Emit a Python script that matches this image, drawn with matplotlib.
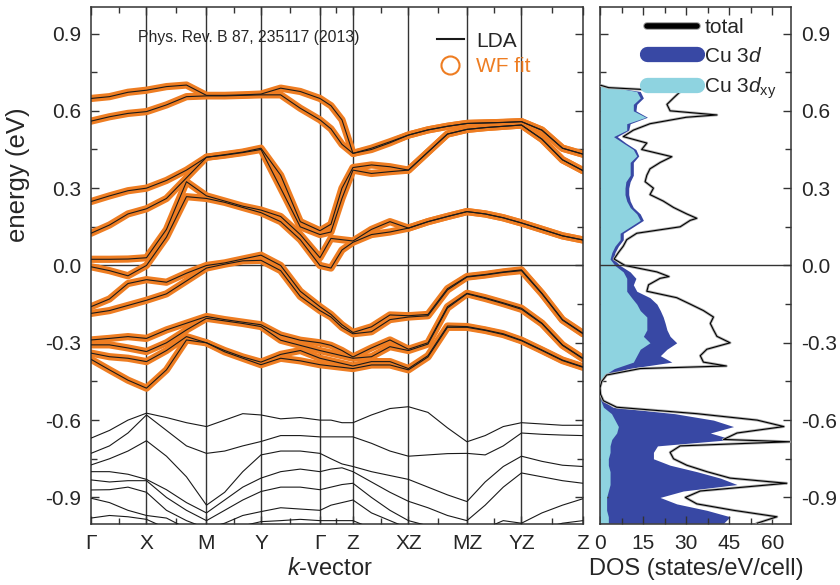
import matplotlib
matplotlib.use("Agg")
import matplotlib.pyplot as plt
import matplotlib.patheffects as pe
from matplotlib.lines import Line2D
import numpy as np

plt.rcParams['font.family'] = ['Liberation Sans', 'DejaVu Sans']
plt.rcParams['mathtext.fontset'] = 'custom'
plt.rcParams['mathtext.rm'] = 'Liberation Sans'
plt.rcParams['mathtext.it'] = 'Liberation Sans:italic'

# ---- band structure data ----
node_labels = ["Γ", "X", "M", "Y", "Γ", "Z", "XZ", "MZ", "YZ", "Z"]
node_k = [0, 55.5, 115.5, 170, 229, 262, 317.5, 376, 430.5, 492]

k_points = [0, 18.5, 37, 55.5, 75.5, 95.5, 115.5, 133.7, 151.8, 170, 189.7, 209.3,
            229, 240, 251, 262, 280.5, 299, 317.5, 337, 356.5, 376, 394.2, 412.3,
            430.5, 451, 471.5, 492]

# Wannier-fitted bands (sorted, top to bottom)
wf_b1 = [0.648, 0.655, 0.672, 0.680, 0.694, 0.700, 0.660, 0.660, 0.662, 0.665, 0.688, 0.675, 0.648, 0.620,
         0.565, 0.435, 0.455, 0.480, 0.506, 0.526, 0.540, 0.551, 0.553, 0.555, 0.558, 0.525, 0.455, 0.432]
wf_b2 = [0.560, 0.577, 0.590, 0.597, 0.623, 0.655, 0.658, 0.658, 0.660, 0.662, 0.662, 0.610, 0.565, 0.530,
         0.470, 0.435, 0.450, 0.476, 0.506, 0.526, 0.540, 0.551, 0.553, 0.555, 0.558, 0.525, 0.455, 0.432]
wf_b3 = [0.248, 0.270, 0.290, 0.300, 0.330, 0.370, 0.420, 0.430, 0.440, 0.455, 0.350, 0.170, 0.135, 0.160,
         0.300, 0.380, 0.390, 0.383, 0.370, 0.440, 0.510, 0.528, 0.535, 0.540, 0.545, 0.490, 0.410, 0.368]
wf_b4 = [0.125, 0.157, 0.200, 0.220, 0.260, 0.340, 0.420, 0.428, 0.438, 0.450, 0.300, 0.150, 0.120, 0.130,
         0.260, 0.370, 0.357, 0.364, 0.370, 0.440, 0.510, 0.528, 0.535, 0.540, 0.545, 0.490, 0.410, 0.368]
wf_b5 = [0.024, 0.024, 0.025, 0.030, 0.140, 0.325, 0.270, 0.250, 0.230, 0.215, 0.190, 0.120, 0.030, 0.105,
         0.100, 0.095, 0.140, 0.170, 0.145, 0.170, 0.190, 0.209, 0.200, 0.185, 0.165, 0.140, 0.115, 0.099]
wf_b6 = [-0.005, -0.020, -0.040, 0.000, 0.110, 0.267, 0.260, 0.245, 0.225, 0.205, 0.170, 0.100, 0.000, -0.010,
         0.060, 0.090, 0.120, 0.130, 0.145, 0.170, 0.190, 0.209, 0.200, 0.185, 0.165, 0.140, 0.115, 0.099]
wf_b7 = [-0.160, -0.130, -0.070, -0.055, -0.065, -0.030, 0.000, 0.010, 0.025, 0.040, 0.000, -0.100, -0.160, -0.190,
         -0.230, -0.260, -0.238, -0.192, -0.195, -0.190, -0.090, -0.043, -0.035, -0.025, -0.017, -0.108, -0.210, -0.263]
wf_b8 = [-0.186, -0.175, -0.155, -0.135, -0.110, -0.060, -0.010, 0.005, 0.018, 0.020, -0.020, -0.120, -0.175, -0.200,
         -0.240, -0.265, -0.257, -0.210, -0.200, -0.195, -0.095, -0.045, -0.037, -0.027, -0.020, -0.110, -0.212, -0.265]
wf_b9 = [-0.289, -0.283, -0.276, -0.283, -0.250, -0.224, -0.198, -0.210, -0.220, -0.230, -0.270, -0.290, -0.300, -0.310,
         -0.330, -0.355, -0.320, -0.289, -0.325, -0.300, -0.160, -0.108, -0.125, -0.145, -0.166, -0.224, -0.308, -0.360]
wf_b10 = [-0.308, -0.308, -0.320, -0.334, -0.300, -0.250, -0.205, -0.215, -0.225, -0.237, -0.290, -0.310, -0.330, -0.340,
          -0.350, -0.360, -0.354, -0.315, -0.330, -0.305, -0.165, -0.110, -0.128, -0.148, -0.170, -0.226, -0.310, -0.362]
wf_b11 = [-0.340, -0.354, -0.360, -0.373, -0.330, -0.276, -0.300, -0.330, -0.355, -0.375, -0.345, -0.330, -0.360, -0.370,
          -0.380, -0.390, -0.373, -0.373, -0.400, -0.350, -0.235, -0.237, -0.250, -0.265, -0.290, -0.328, -0.367, -0.393]
wf_b12 = [-0.364, -0.405, -0.445, -0.476, -0.405, -0.289, -0.300, -0.335, -0.360, -0.385, -0.360, -0.370, -0.385, -0.390,
          -0.395, -0.400, -0.386, -0.386, -0.405, -0.355, -0.240, -0.240, -0.252, -0.268, -0.292, -0.330, -0.369, -0.395]

# deeper LDA bands (not fitted)
lda_d1 = [-0.670, -0.640, -0.600, -0.573, -0.590, -0.610, -0.625, -0.600, -0.575, -0.580, -0.595, -0.590, -0.600, -0.600,
          -0.610, -0.610, -0.580, -0.555, -0.548, -0.570, -0.630, -0.684, -0.660, -0.625, -0.610, -0.615, -0.620, -0.620]
lda_d2 = [-0.729, -0.700, -0.650, -0.580, -0.640, -0.700, -0.729, -0.720, -0.700, -0.683, -0.660, -0.660, -0.665, -0.665,
          -0.665, -0.665, -0.690, -0.720, -0.740, -0.735, -0.730, -0.729, -0.735, -0.700, -0.650, -0.655, -0.658, -0.660]
lda_d3 = [-0.774, -0.750, -0.720, -0.680, -0.740, -0.820, -0.930, -0.880, -0.800, -0.735, -0.720, -0.720, -0.729, -0.750,
          -0.770, -0.780, -0.800, -0.815, -0.830, -0.860, -0.890, -0.916, -0.840, -0.780, -0.740, -0.760, -0.775, -0.780]
lda_d4 = [-0.800, -0.800, -0.810, -0.830, -0.870, -0.920, -0.960, -0.910, -0.860, -0.825, -0.800, -0.790, -0.800, -0.790,
          -0.785, -0.800, -0.840, -0.880, -0.915, -0.940, -0.970, -0.990, -0.930, -0.860, -0.805, -0.820, -0.835, -0.845]
lda_d5 = [-0.832, -0.840, -0.835, -0.835, -0.900, -0.950, -0.990, -0.950, -0.910, -0.877, -0.860, -0.860, -0.870, -0.860,
          -0.850, -0.845, -0.900, -0.950, -0.990, -1.010, -1.030, -1.050, -1.020, -0.990, -1.000, -0.960, -0.930, -0.905]
lda_d6 = [-0.871, -0.870, -0.860, -0.880, -0.950, -0.990, -1.020, -1.000, -0.970, -0.955, -0.940, -0.945, -0.950, -0.930,
          -0.920, -0.910, -0.960, -0.990, -1.020, -1.050, -1.070, -1.080, -1.070, -1.050, -1.040, -1.020, -1.000, -0.990]
lda_d7 = [-0.903, -0.920, -0.950, -0.970, -0.980, -1.020, -1.050, -1.040, -1.010, -0.994, -0.990, -0.985, -0.990, -0.990,
          -0.990, -0.990, -1.020, -1.050, -1.080, -1.100, -1.100, -1.100, -1.100, -1.100, -1.100, -1.080, -1.050, -1.030]
lda_d8 = [-0.980, -0.970, -0.975, -0.985, -1.020, -1.050, -1.080, -1.070, -1.050, -1.030, -1.020, -1.020, -1.030, -1.040,
          -1.050, -1.050, -1.080, -1.100, -1.120, -1.120, -1.120, -1.120, -1.120, -1.120, -1.120, -1.100, -1.080, -1.060]

wf_bands = [wf_b1, wf_b2, wf_b3, wf_b4, wf_b5, wf_b6, wf_b7, wf_b8, wf_b9, wf_b10, wf_b11, wf_b12]
lda_deep = [lda_d1, lda_d2, lda_d3, lda_d4, lda_d5, lda_d6, lda_d7, lda_d8]

# ---- DOS data ----
total_energy = [0.70, 0.69, 0.675, 0.65, 0.625, 0.60, 0.584, 0.575, 0.55, 0.525, 0.50, 0.475, 0.45, 0.422,
                0.40, 0.375, 0.35, 0.325, 0.30, 0.275, 0.25, 0.225, 0.20, 0.183, 0.175, 0.15, 0.125, 0.10,
                0.075, 0.05, 0.025, 0.0, -0.025, -0.043, -0.05, -0.075, -0.10, -0.125, -0.15, -0.175, -0.20,
                -0.225, -0.25, -0.275, -0.30, -0.325, -0.35, -0.375, -0.39, -0.40, -0.425, -0.45, -0.475,
                -0.50, -0.525, -0.55, -0.575, -0.60, -0.625, -0.65, -0.675, -0.684, -0.70, -0.725, -0.75,
                -0.775, -0.80, -0.825, -0.845, -0.85, -0.875, -0.90, -0.925, -0.95, -0.975, -1.00]
total_dos = [0, 3, 28, 25.6, 23.3, 24.4, 40.7, 30, 17.4, 11.6, 8.1, 16.3, 14.5, 25,
             21, 17.4, 16.3, 15.7, 18.6, 17.4, 22, 25.6, 30.2, 33.7, 31.4, 27.9, 12.8, 9.3,
             8.1, 6.4, 4.9, 8.7, 19.8, 24, 20.9, 16.9, 16.3, 26.7, 31.4, 36, 39.5,
             38.4, 39.5, 40.7, 45.3, 37.2, 34.9, 36, 44, 14, 2.3, 0.6, 0,
             0.2, 1.2, 5.8, 33.7, 54.7, 64, 47.7, 43, 66, 27.9, 24.4, 25.6,
             30.2, 37.2, 45.3, 65, 60, 34.9, 29.7, 33.7, 46.5, 61.6, 54.7]

pdos_energy = np.linspace(0.70, -1.00, 69)
cu3d_dos = [0, 14, 15.1, 12.8, 12.5, 16.5, 10.5, 10, 6, 9, 12.5, 13.5, 11.6, 11.6, 11.6, 10.5, 10, 10,
            10.5, 11.6, 14, 15.1, 11.6, 8.1, 8.1, 6.4, 5.2, 4.7, 7, 10.5, 12.5, 11.6, 12.8, 17.4, 19.8,
            21, 22, 22.7, 23.3, 24.4, 26.7, 23.3, 21, 25, 10, 2, 0.5, 0, 0.1, 1, 4.5, 26, 39.5, 46.5,
            38.4, 46, 20, 18.6, 18.6, 24.4, 33.7, 41.9, 47.7, 29, 20.9, 26.7, 37.2, 45.3, 43]
cu3dxy_dos = [0, 12.8, 14, 11.6, 11.6, 16, 9.3, 9.3, 4.7, 8.1, 11.6, 12.8, 10.5, 10.5, 10.5, 9, 8.7, 8.7,
              9.3, 10.5, 12.8, 14, 10.5, 7, 7, 5.2, 4.1, 3.5, 5.2, 8.1, 9.3, 9.3, 9.3, 11, 12.8,
              14, 16.3, 16.3, 16.3, 15.1, 17.4, 14, 12.8, 11.6, 5, 1.5, 0.3, 0, 0, 0.3, 1.2, 4, 5.2, 6.4,
              5.8, 4.1, 3.5, 3.5, 2.9, 2.9, 3.5, 3.5, 3.5, 2.9, 2.3, 2.3, 2.3, 2.9, 2.9]

energy_ticks = [-0.9, -0.6, -0.3, 0.0, 0.3, 0.6, 0.9]
dos_ticks = [0, 15, 30, 45, 60]

orange = '#EE7D22'
blue = '#3848A4'
cyan = '#8ED3E0'
dark = '#262626'

fig = plt.figure(figsize=(8.4, 5.85), dpi=100)
ax = fig.add_axes([0.1083, 0.1043, 0.5857, 0.8838])
ax2 = fig.add_axes([0.7143, 0.1043, 0.2274, 0.8838])

# ---- left: bands ----
for kx in node_k[1:-1]:
    ax.axvline(kx, color='#333333', lw=1.0, zorder=1)
ax.axhline(0, color='#333333', lw=1.0, zorder=1)

for band in wf_bands:
    ax.plot(k_points, band, color=orange, lw=5.2, solid_joinstyle='round',
            solid_capstyle='round', zorder=2)
for band in wf_bands + lda_deep:
    ax.plot(k_points, band, color='#1a1a1a', lw=0.8, zorder=3)

ax.set_xlim(node_k[0], node_k[-1])
ax.set_ylim(-1.003, 1.003)
ax.set_xticks(node_k)
ax.set_xticklabels(node_labels)
ax.set_xticks([(a + b) / 2 for a, b in zip(node_k[:-1], node_k[1:])], minor=True)
ax.set_yticks(energy_ticks)
ax.set_yticklabels(['%.1f' % v for v in energy_ticks])
ax.set_yticks([-0.75, -0.45, -0.15, 0.15, 0.45, 0.75], minor=True)
ax.tick_params(which='both', direction='in', top=True, right=True, labelsize=15,
               colors='#333333', labelcolor=dark, pad=7)
ax.tick_params(which='major', length=6, width=1)
ax.tick_params(which='minor', length=4, width=1)
for s in ax.spines.values():
    s.set_color('#333333')
    s.set_linewidth(1.1)

ax.set_ylabel('energy (eV)', fontsize=18.5, color=dark)
ax.yaxis.set_label_coords(-0.124, 0.675)
ax.set_xlabel('$k$-vector', fontsize=17, color=dark)
ax.xaxis.set_label_coords(0.486, -0.066)

ax.text(0.0955, 0.94, 'Phys. Rev. B 87, 235117 (2013)', transform=ax.transAxes,
        fontsize=11.3, color=dark, va='center', ha='left')

h_lda = Line2D([], [], color='#1a1a1a', lw=1.5)
h_wf = Line2D([], [], ls='none', marker='o', ms=13, mfc='none', mec=orange, mew=1.5)
leg = ax.legend([h_lda, h_wf], ['LDA', 'WF fit'], loc='upper left',
                bbox_to_anchor=(0.703, 0.952), frameon=False, fontsize=15,
                handlelength=1.3, handletextpad=0.6, labelspacing=0.3,
                borderaxespad=0, borderpad=0)
leg.get_texts()[0].set_color(dark)
leg.get_texts()[1].set_color(orange)

# ---- right: DOS ----
ax2.fill_betweenx(pdos_energy, 0, cu3d_dos, color=blue, lw=0, zorder=1)
ax2.fill_betweenx(pdos_energy, 0, cu3dxy_dos, color=cyan, lw=0, zorder=2)
ax2.plot(total_dos, total_energy, color='black', lw=0.8, zorder=3,
         path_effects=[pe.Stroke(linewidth=2.0, foreground='#b0b0b0'), pe.Normal()])
ax2.axhline(0, color='#333333', lw=1.0, zorder=4)

ax2.set_xlim(0, 66.5)
ax2.set_ylim(-1.003, 1.003)
ax2.set_xticks(dos_ticks)
ax2.set_xticks([7.5, 22.5, 37.5, 52.5], minor=True)
ax2.set_yticks(energy_ticks)
ax2.set_yticklabels(['%.1f' % v for v in energy_ticks])
ax2.set_yticks([-0.75, -0.45, -0.15, 0.15, 0.45, 0.75], minor=True)
ax2.yaxis.tick_right()
ax2.tick_params(which='both', direction='in', top=True, left=True, right=True,
                labelsize=15, colors='#333333', labelcolor=dark, pad=7)
ax2.tick_params(which='major', length=6, width=1)
ax2.tick_params(which='minor', length=4, width=1)
for s in ax2.spines.values():
    s.set_color('#333333')
    s.set_linewidth(1.1)
ax2.set_xlabel('DOS (states/eV/cell)', fontsize=17, color=dark)
ax2.xaxis.set_label_coords(0.505, -0.066)

h_tot = Line2D([], [], color='black', lw=4, solid_capstyle='round',
               path_effects=[pe.Stroke(linewidth=5.5, foreground='#9a9a9a'), pe.Normal()])
h_d = Line2D([], [], color=blue, lw=11, solid_capstyle='round')
h_xy = Line2D([], [], color=cyan, lw=11, solid_capstyle='round')
leg2 = ax2.legend([h_tot, h_d, h_xy], ['total', 'Cu 3$d$', 'Cu 3$d_{\\mathrm{xy}}$'],
                  loc='upper left', bbox_to_anchor=(0.23, 0.984), frameon=False,
                  fontsize=15, handlelength=2.4, handletextpad=0.35, labelspacing=0.45,
                  borderaxespad=0, borderpad=0.15)
for t in leg2.get_texts():
    t.set_color(dark)

fig.savefig('out.png', dpi=100)
